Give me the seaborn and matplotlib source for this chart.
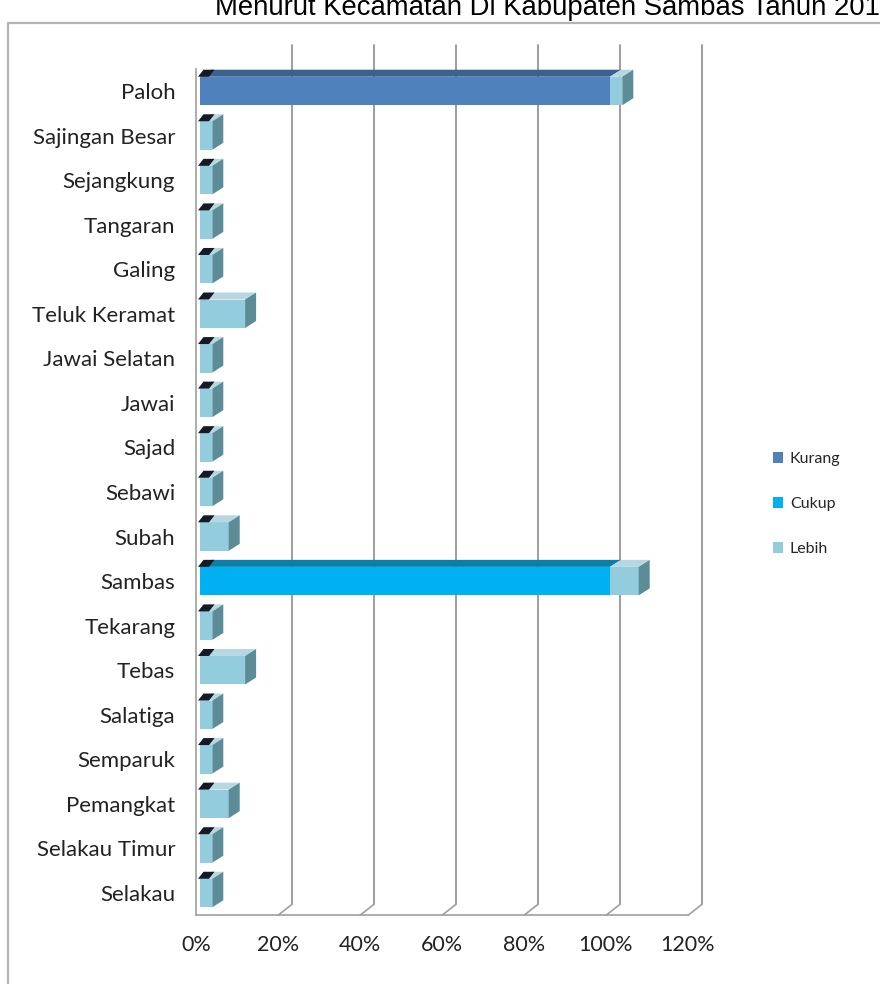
import matplotlib
matplotlib.use("Agg")
import matplotlib.pyplot as plt
import seaborn as sns
import pandas as pd
from matplotlib.patches import Polygon, Rectangle, Patch
from matplotlib.lines import Line2D
from matplotlib.transforms import Affine2D, IdentityTransform, blended_transform_factory

# ---- data -------------------------------------------------------------
kecamatan = ["Paloh", "Sajingan Besar", "Sejangkung", "Tangaran", "Galing",
             "Teluk Keramat", "Jawai Selatan", "Jawai", "Sajad", "Sebawi",
             "Subah", "Sambas", "Tekarang", "Tebas", "Salatiga", "Semparuk",
             "Pemangkat", "Selakau Timur", "Selakau"]
kurang = [100, 0, 0, 0, 0, 0, 0, 0, 0, 0, 0, 0, 0, 0, 0, 0, 0, 0, 0]
cukup = [0, 0, 0, 0, 0, 0, 0, 0, 0, 0, 0, 100, 0, 0, 0, 0, 0, 0, 0]
lebih = [3, 3, 3, 3, 3, 11, 3, 3, 3, 3, 7, 7, 3, 11, 3, 3, 7, 3, 3]
series = ["Kurang", "Cukup", "Lebih"]
x_ticks = [0, 20, 40, 60, 80, 100, 120]
x_ticklabels = ["0%", "20%", "40%", "60%", "80%", "100%", "120%"]
title = "Menurut Kecamatan Di Kabupaten Sambas Tahun 2012"

front = {"Kurang": "#4F81BD", "Cukup": "#00B0F0", "Lebih": "#93CDDD"}
top = {"Kurang": "#3A6190", "Cukup": "#0B7FA6", "Lebih": "#B7D8E2"}
side = {"Kurang": "#35587F", "Cukup": "#0A6F92", "Lebih": "#5B8C97"}

df = pd.DataFrame({"Kecamatan": kecamatan, "Kurang": kurang,
                   "Cukup": cukup, "Lebih": lebih})
df["s1"] = df["Kurang"]
df["s2"] = df["Kurang"] + df["Cukup"]
df["s3"] = df["s2"] + df["Lebih"]

# ---- figure -----------------------------------------------------------
W, H = 880, 984
sns.set_theme(style="white")
plt.rcParams["font.family"] = ["Lato", "DejaVu Sans"]
fig = plt.figure(figsize=(W / 100, H / 100), dpi=100)
fig.patch.set_facecolor("white")

# chart frame
fig.patches.append(Rectangle((8 / W, -0.2), 1.3, 1.2 - 23 / H,
                             transform=fig.transFigure, fill=False,
                             ec="#b4b4b4", lw=1.6, zorder=0))

# title (runs past the top and right edges of the canvas)
fig.text(215 / W, 1 - 15 / H, title, family=["Liberation Sans", "DejaVu Sans"],
         fontsize=19.8, color="black", ha="left", va="baseline")

L, R, T, B = 196, 688, 68.7, 915.3
ax = fig.add_axes([L / W, 1 - B / H, (R - L) / W, (B - T) / H])
ax.set_facecolor("none")

BAR_W = 0.64
# stacked bars: totals first, then the lower parts on top
sns.barplot(data=df, x="s3", y="Kecamatan", order=kecamatan, orient="h",
            color=front["Lebih"], width=BAR_W, linewidth=0, saturation=1, ax=ax)
sns.barplot(data=df, x="s2", y="Kecamatan", order=kecamatan, orient="h",
            color=front["Cukup"], width=BAR_W, linewidth=0, saturation=1, ax=ax)
sns.barplot(data=df, x="s1", y="Kecamatan", order=kecamatan, orient="h",
            color=front["Kurang"], width=BAR_W, linewidth=0, saturation=1, ax=ax)

ax.set_xlim(0, 120)
ax.set_ylim(len(kecamatan) - 0.5, -0.5)
ax.set_xticks(x_ticks)
ax.set_xticklabels(x_ticklabels)
ax.set_xlabel("")
ax.set_ylabel("")
ax.tick_params(axis="x", length=0, pad=14, labelsize=15.5, labelcolor="#222222")
ax.tick_params(axis="y", length=0, pad=15, labelsize=16, labelcolor="#222222")
ax.grid(False)
for s in ["top", "right"]:
    ax.spines[s].set_visible(False)
for s in ["left", "bottom"]:
    ax.spines[s].set_color("#a0a0a0")
    ax.spines[s].set_linewidth(1.2)

# bars sit a little behind the front plane
BX = 4
for p in ax.patches:
    p.set_transform(ax.transData + Affine2D().translate(BX, 0))

# back wall gridlines and floor edges (3D depth offset)
DX, DY = 14, 11
blend = blended_transform_factory(ax.transData, ax.transAxes)
for v in x_ticks[1:]:
    ax.add_line(Line2D([v, v], [0, 1.015], color="#8c8c8c", lw=1.2,
                       transform=blend + Affine2D().translate(DX, DY),
                       clip_on=False, zorder=0.5))
    x0, y0 = blend.transform((v, 0))
    ax.add_line(Line2D([x0, x0 + DX], [y0, y0 + DY], color="#a0a0a0", lw=1.2,
                       transform=IdentityTransform(), clip_on=False, zorder=0.5))

# 3D top and side faces of each bar
bdx, bdy = 11, 7
to_px = ax.transData + Affine2D().translate(BX, 0)
for i, row in df.iterrows():
    yt = i - BAR_W / 2
    yb = i + BAR_W / 2
    segs = [("Kurang", 0, row["s1"]), ("Cukup", row["s1"], row["s2"]),
            ("Lebih", row["s2"], row["s3"])]
    segs = [s for s in segs if s[2] > s[1]]
    for name, a, b in segs:
        (xa, ya), (xb, _) = to_px.transform([(a, yt), (b, yt)])
        ax.add_patch(Polygon([(xa, ya), (xb, ya), (xb + bdx, ya + bdy),
                              (xa + bdx, ya + bdy)], closed=True,
                             fc=top[name], ec="none",
                             transform=IdentityTransform(), clip_on=False,
                             zorder=3))
    name, a, b = segs[-1]
    (xe, ytp), (_, ybp) = to_px.transform([(b, yt), (b, yb)])
    ax.add_patch(Polygon([(xe, ytp), (xe + bdx, ytp + bdy),
                          (xe + bdx, ybp + bdy), (xe, ybp)], closed=True,
                         fc=side[name], ec="none",
                         transform=IdentityTransform(), clip_on=False,
                         zorder=3))
    # dark shaded corner where the bar meets the side wall
    x0p, y0p = to_px.transform((0, yt))
    ax.add_patch(Polygon([(x0p - 2, y0p), (x0p + 9, y0p),
                          (x0p + 9 + bdx * 0.5, y0p + bdy),
                          (x0p - 2 + bdx * 0.5, y0p + bdy)], closed=True,
                         fc="#141a26", ec="none",
                         transform=IdentityTransform(), clip_on=False,
                         zorder=3.5))

# legend
handles = [Patch(fc=front[s], ec="none") for s in series]
fig.legend(handles, series, loc="center left",
           bbox_to_anchor=(765 / W, 1 - 504 / H), frameon=False,
           fontsize=11.5, handlelength=0.65, handleheight=0.65,
           handletextpad=0.4, labelspacing=1.95, borderpad=0)

fig.savefig("out.png", dpi=100, facecolor="white")
